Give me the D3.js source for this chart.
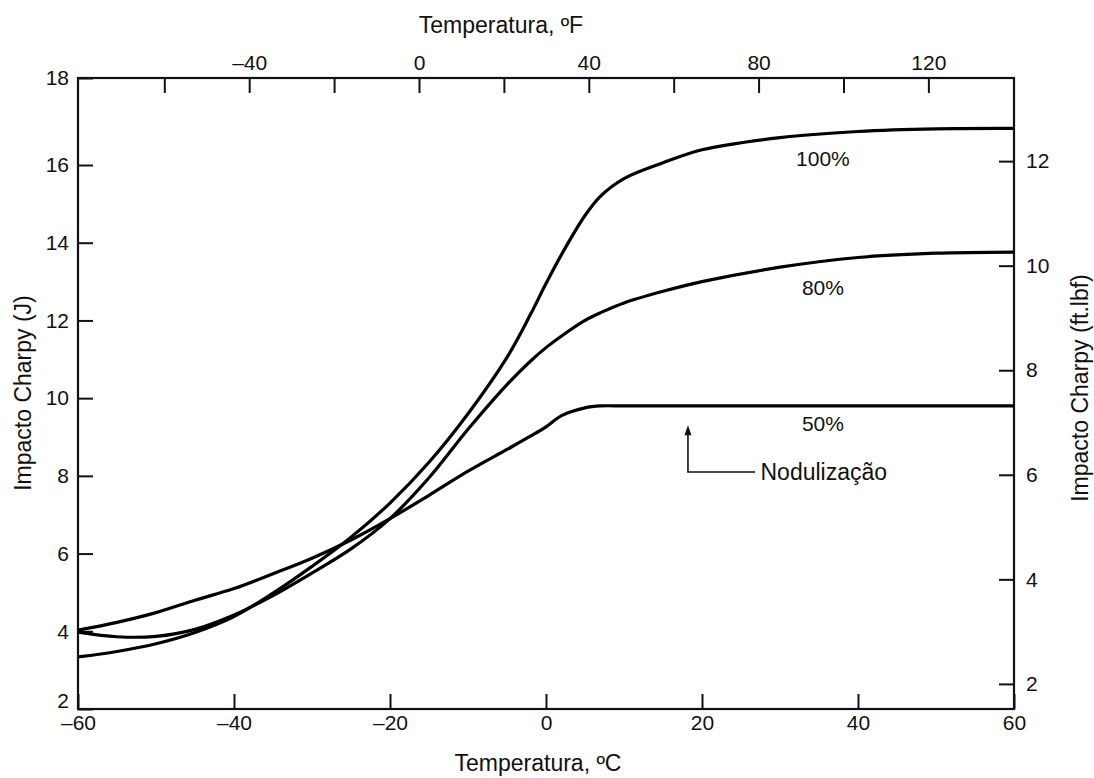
<!DOCTYPE html>
<html><head><meta charset="utf-8">
<script src="https://cdn.jsdelivr.net/npm/d3@7"></script>
<style>
body{margin:0;background:#fff}
svg text{font-family:"Liberation Sans",Arial,Helvetica,sans-serif;fill:#111}
</style>
</head><body>
<svg id="chart" width="1094" height="778"></svg>
<script>
// ---- data ----
const tempC      = [-60,-55,-50,-45,-40,-35,-30,-25,-20,-15,-10,-5,-2,0,2,5,7,10,15,20,30,40,50,60];
const impact100  = [3.34,3.48,3.68,3.97,4.38,4.98,5.67,6.42,7.3,8.35,9.6,11.05,12.15,12.95,13.7,14.7,15.2,15.65,16.05,16.35,16.63,16.77,16.83,16.84];
const impact80   = [3.98,3.86,3.87,4.05,4.42,4.92,5.5,6.12,6.9,7.95,9.2,10.35,10.95,11.3,11.6,12.0,12.2,12.45,12.75,13.0,13.37,13.62,13.73,13.76];
const impact50   = [4.03,4.23,4.48,4.8,5.1,5.48,5.88,6.35,6.9,7.5,8.12,8.68,9.02,9.26,9.55,9.75,9.8,9.8,9.8,9.8,9.8,9.8,9.8,9.8];
const seriesNames = ["100%","80%","50%"];
const seriesLabelTemp = 35.5;
const seriesLabelJ = [16.15,12.85,9.35];

const ticksC  = [-60,-40,-20,0,20,40,60];
const ticksF  = [-60,-40,-20,0,20,40,60,80,100,120];
const labelsF = [-40,0,40,80,120];
const ticksJ  = [2,4,6,8,10,12,14,16,18];
const ticksFt = [2,4,6,8,10,12];

const annotTemp = 18.2, annotFromJ = 8.1, annotToJ = 9.3, annotEndTemp = 26.8, annotTextTemp = 27.5;
const annotText = "Nodulização";

// ---- layout ----
const L = 78, R = 1014, T = 78, B = 709;
const svg = d3.select("#chart");

const x   = d3.scaleLinear().domain([-60,60]).range([L,R]);
const y   = d3.scaleLinear().domain([2,16,18]).range([B,165,T]);
const xF  = d3.scaleLinear().domain([-80.33,140.17]).range([L,R]);
const yFt = d3.scaleLinear().domain([1.52,13.59]).range([B,T]);

const fmt = d => d < 0 ? "\u2013" + Math.abs(d) : String(d);
const tickLen = 15;

function styleAxis(g){
  g.select(".domain").remove();
  g.selectAll(".tick line").attr("stroke","#111").attr("stroke-width",2);
  g.selectAll(".tick text").attr("font-size",21).attr("fill","#111");
}

svg.append("g").attr("transform",`translate(0,${B})`)
  .call(d3.axisBottom(x).tickValues(ticksC).tickSizeInner(-tickLen).tickSizeOuter(0).tickPadding(6).tickFormat(fmt))
  .call(styleAxis);

svg.append("g").attr("transform",`translate(0,${T})`)
  .call(d3.axisTop(xF).tickValues(ticksF).tickSizeInner(-tickLen).tickSizeOuter(0).tickPadding(8)
    .tickFormat(d => labelsF.includes(d) ? fmt(d) : ""))
  .call(styleAxis);

const leftAxis = svg.append("g").attr("transform",`translate(${L},0)`)
  .call(d3.axisLeft(y).tickValues(ticksJ).tickSizeInner(-tickLen).tickSizeOuter(0).tickPadding(9).tickFormat(fmt))
  .call(styleAxis);
// lowest label sits just above the corner, as in the reference
leftAxis.selectAll(".tick text").filter(d => d === 2).attr("dy","-0.05em");

svg.append("g").attr("transform",`translate(${R},0)`)
  .call(d3.axisRight(yFt).tickValues(ticksFt).tickSizeInner(-tickLen).tickSizeOuter(0).tickPadding(12).tickFormat(fmt))
  .call(styleAxis);

// frame
svg.append("rect").attr("x",L).attr("y",T).attr("width",R-L).attr("height",B-T)
  .attr("fill","none").attr("stroke","#111").attr("stroke-width",2.2);

// curves
const series = [impact100, impact80, impact50];
const line = d3.line().x((d,i)=>x(tempC[i])).y(d=>y(d)).curve(d3.curveCatmullRom.alpha(0.5));
svg.append("g").selectAll("path").data(series).join("path")
  .attr("d", line).attr("fill","none").attr("stroke","#000")
  .attr("stroke-width",3.2).attr("stroke-linejoin","round");

// series labels
svg.append("g").selectAll("text").data(seriesNames).join("text")
  .attr("x", x(seriesLabelTemp)).attr("y",(d,i)=>y(seriesLabelJ[i]))
  .attr("dy","0.36em").attr("text-anchor","middle").attr("font-size",21).text(d=>d);

// annotation
const ax = x(annotTemp), ay0 = y(annotFromJ), ay1 = y(annotToJ);
svg.append("path").attr("d",`M${x(annotEndTemp)},${ay0}H${ax}V${ay1+8}`)
  .attr("fill","none").attr("stroke","#111").attr("stroke-width",1.6);
svg.append("path").attr("d",`M${ax-3.5},${ay1+10}L${ax},${ay1}L${ax+3.5},${ay1+10}Z`).attr("fill","#111");
svg.append("text").attr("x",x(annotTextTemp)).attr("y",ay0).attr("dy","0.36em")
  .attr("font-size",23).text(annotText);

// axis titles
svg.append("text").attr("x",501).attr("y",33).attr("text-anchor","middle").attr("font-size",23).text("Temperatura, ºF");
svg.append("text").attr("x",538).attr("y",771).attr("text-anchor","middle").attr("font-size",23).text("Temperatura, ºC");
svg.append("text").attr("transform","translate(31,393) rotate(-90)").attr("text-anchor","middle").attr("font-size",23).text("Impacto Charpy (J)");
svg.append("text").attr("transform","translate(1088,388) rotate(-90)").attr("text-anchor","middle").attr("font-size",23).text("Impacto Charpy (ft.lbf)");
</script>
</body></html>
